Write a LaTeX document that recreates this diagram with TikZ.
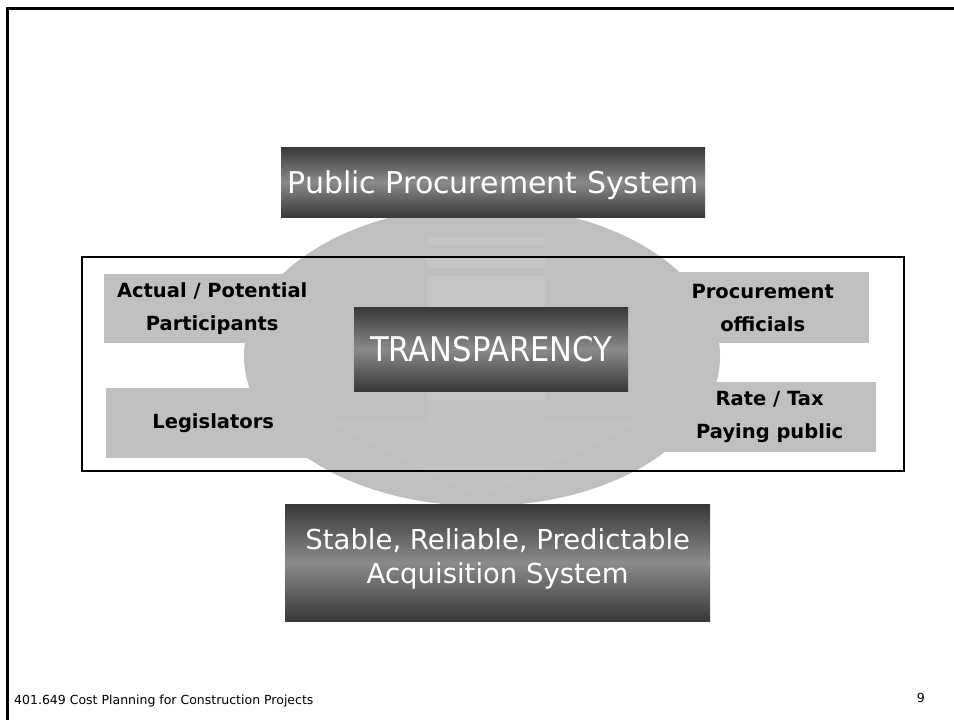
\documentclass[tikz,border=0pt]{standalone}
\usepackage{fontspec}
\setmainfont{DejaVu Sans}
\newfontfamily\condfont{DejaVu Sans Condensed}
\definecolor{boxdark}{HTML}{383838}
\definecolor{boxmid}{HTML}{8A8A8A}
\definecolor{boxgray}{HTML}{C0C0C0}
\definecolor{ellgray}{HTML}{BFBFBF}
\definecolor{arrowgray}{HTML}{C5C5C5}
\begin{document}
\begin{tikzpicture}[x=1pt,y=-1pt,
  darkbox/.style={draw=none, top color=boxdark, bottom color=boxdark, middle color=boxmid,
    text=white, align=center, inner sep=0pt, anchor=north west},
  graybox/.style={fill=boxgray, draw=none, inner sep=0pt, align=center, anchor=north west,
    font=\bfseries\fontsize{19.5}{33}\selectfont},
  footer/.style={inner sep=0pt, font=\fontsize{12.5}{14}\selectfont}]
\useasboundingbox (0,0) rectangle (954,720);
\fill[white] (0,0) rectangle (954,720);
% page frame lines
\draw[line width=3pt] (7,720) -- (7,8) -- (954,8);
% background ellipse with faint arrow
\fill[ellgray] (482,356) ellipse [x radius=238, y radius=150];
\fill[arrowgray] (427,237) rectangle (545,245);
\fill[arrowgray] (427,256) rectangle (545,268);
\fill[arrowgray] (427,276) rectangle (545,422);
\fill[arrowgray!50!ellgray] (330,422) -- (427,422) -- (427,400) -- (545,400) -- (545,422) -- (640,422) -- (482,498) -- cycle;
% gray stakeholder boxes
\node[graybox, minimum width=216pt, minimum height=69pt] (ap) at (104,274) {Actual / Potential\\Participants};
\node[graybox, minimum width=214pt, minimum height=70pt] (leg) at (106,388) {Legislators};
\node[graybox, minimum width=213pt, minimum height=71pt] (po) at (656,272) {Procurement\\officials};
\node[graybox, minimum width=213pt, minimum height=70pt] (rt) at (663,382) {Rate / Tax\\Paying public};
% frame around stakeholders
\node[draw, line width=2pt, inner sep=0pt, anchor=north west, minimum width=822pt, minimum height=214pt] (frame) at (81,256) {};
% dark boxes
\node[darkbox, minimum width=424pt, minimum height=70pt, font=\fontsize{30}{34}\selectfont] (pps) at (281,147) {\raisebox{-3.5pt}[\height][\depth]{Public Procurement System}};
\node[darkbox, minimum width=274pt, minimum height=84pt, font=\condfont\fontsize{34}{40}\selectfont] (tr) at (354,307) {TRANSPARENCY};
\node[darkbox, minimum width=425pt, minimum height=117pt, font=\fontsize{27.5}{34}\selectfont] (sra) at (285,504) {\raisebox{3pt}[\height][\depth]{\begin{tabular}{@{}c@{}}Stable, Reliable, Predictable\\[-0.5pt]Acquisition System\end{tabular}}};
% footer
\node[footer, anchor=base west] (ft) at (14,704) {401.649 Cost Planning for Construction Projects};
\node[footer, anchor=base east] (pg) at (925,702) {9};
\end{tikzpicture}
\end{document}
